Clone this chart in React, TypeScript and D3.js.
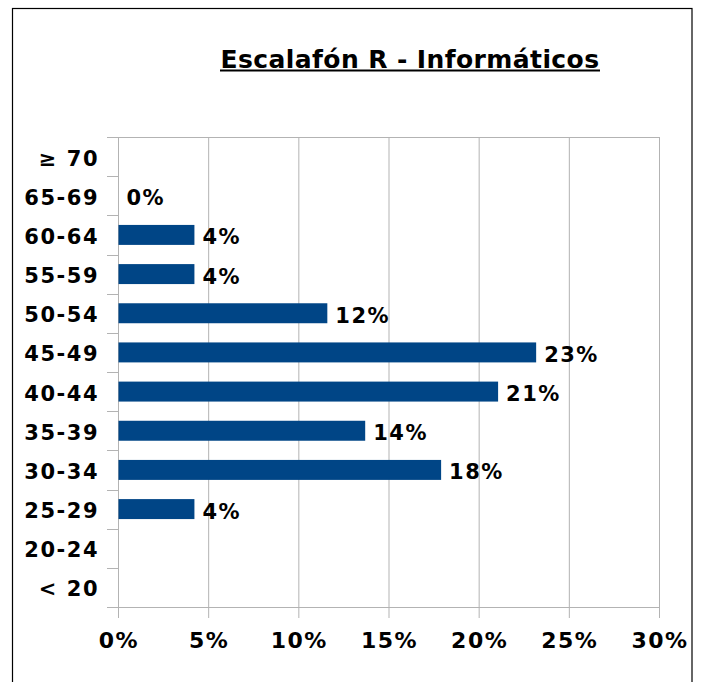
import React from "react";
import * as d3 from "d3";

const title = "Escalafón R - Informáticos";
const categories = ["≥ 70", "65-69", "60-64", "55-59", "50-54", "45-49", "40-44", "35-39", "30-34", "25-29", "20-24", "< 20"];
const values: (number | null)[] = [null, 0, 4.21, 4.21, 11.58, 23.16, 21.05, 13.68, 17.89, 4.21, null, null];
const xTicks = [0, 5, 10, 15, 20, 25, 30];

const W = 702;
const H = 682;
const plot = { left: 118, right: 659, top: 137, bottom: 607 };
const FONT = "'DejaVu Sans', Verdana, sans-serif";
const BAR = "#004586";
const GRID = "#b3b3b3";

export default function App() {
  const x = d3.scaleLinear().domain([0, 30]).range([plot.left, plot.right]);
  const slot = d3.scaleBand<string>().domain(categories).range([plot.top, plot.bottom]).padding(0);
  const bw = slot.bandwidth();
  const barH = bw * 0.51;
  const boundaries = d3.range(categories.length + 1).map((i) => plot.top + i * bw);

  return (
    <svg
      width={W}
      height={H}
      style={{ position: "absolute", left: 0, top: 0, background: "#fff" }}
      fontFamily={FONT}
    >
      <rect x={0} y={0} width={W} height={H} fill="#fff" />
      <rect x={12.5} y={8.5} width={679.5} height={690} fill="none" stroke="#000" strokeWidth={1.2} />

      {/* title */}
      <text x={410} y={68} textAnchor="middle" fontSize={25} fontWeight="bold" letterSpacing={0.4} fill="#000">
        {title}
      </text>
      <line x1={220} x2={600} y1={70.5} y2={70.5} stroke="#000" strokeWidth={1.8} />

      {/* vertical gridlines */}
      {xTicks.map((t) => (
        <line key={"g" + t} x1={x(t) + 0.5} x2={x(t) + 0.5} y1={plot.top} y2={plot.bottom + 11} stroke={GRID} strokeWidth={1} />
      ))}
      {/* top and bottom frame lines */}
      <line x1={plot.left} x2={plot.right + 0.5} y1={plot.top + 0.5} y2={plot.top + 0.5} stroke={GRID} strokeWidth={1} />
      <line x1={plot.left - 11} x2={plot.right + 0.5} y1={plot.bottom + 0.5} y2={plot.bottom + 0.5} stroke={GRID} strokeWidth={1} />
      {/* category ticks */}
      {boundaries.map((b, i) => (
        <line key={"t" + i} x1={plot.left - 11} x2={plot.left} y1={Math.round(b) + 0.5} y2={Math.round(b) + 0.5} stroke={GRID} strokeWidth={1} />
      ))}

      {/* bars */}
      {categories.map((c, i) => {
        const v = values[i];
        if (v === null || v <= 0) return null;
        const yy = (slot(c) as number) + (bw - barH) / 2;
        return <rect key={"b" + c} x={x(0) + 0.5} y={yy} width={x(v) - x(0)} height={barH} fill={BAR} />;
      })}

      {/* data labels */}
      {categories.map((c, i) => {
        const v = values[i];
        if (v === null) return null;
        const cy = (slot(c) as number) + bw / 2;
        return (
          <text key={"l" + c} x={x(v) + 8.5} y={cy + 9.5} fontSize={21} fontWeight="bold" letterSpacing={1.5} fill="#000">
            {Math.round(v) + "%"}
          </text>
        );
      })}

      {/* category labels */}
      {categories.map((c) => {
        const cy = (slot(c) as number) + bw / 2;
        return (
          <text key={"c" + c} x={99} y={cy + 9} textAnchor="end" fontSize={21} fontWeight="bold" letterSpacing={1.5} fill="#000">
            {c}
          </text>
        );
      })}

      {/* x tick labels */}
      {xTicks.map((t) => (
        <text key={"x" + t} x={x(t) + 1} y={648} textAnchor="middle" fontSize={22} fontWeight="bold" letterSpacing={1.5} fill="#000">
          {t + "%"}
        </text>
      ))}
    </svg>
  );
}
